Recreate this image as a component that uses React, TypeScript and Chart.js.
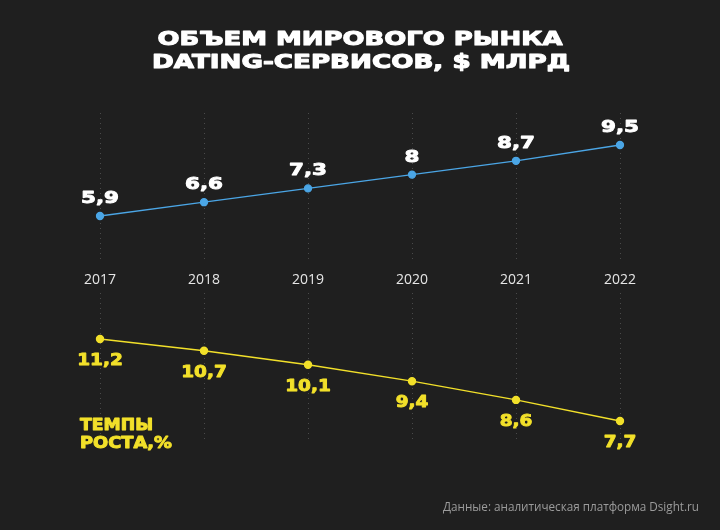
import React, { useEffect, useRef } from "react";
import { Chart, registerables } from "chart.js";

Chart.register(...registerables);

const years = ["2017", "2018", "2019", "2020", "2021", "2022"];
const marketVolume = [5.9, 6.6, 7.3, 8, 8.7, 9.5];
const growthRate = [11.2, 10.7, 10.1, 9.4, 8.6, 7.7];
const titleLines = ["ОБЪЕМ МИРОВОГО РЫНКА", "DATING-СЕРВИСОВ, $ МЛРД"];
const growthLabel = ["ТЕМПЫ", "РОСТА,%"];
const sourceText = "Данные: аналитическая платформа Dsight.ru";

const BG = "#1f1f1f";
const BLUE = "#4ba6e6";
const YELLOW = "#f2e02a";
const WIDE = "'DejaVu Sans', sans-serif";

function fmt(v: number) {
  return String(v).replace(".", ",");
}

function drawWide(
  ctx: CanvasRenderingContext2D,
  text: string,
  x: number,
  y: number,
  size: number,
  color: string,
  opts: { scale?: number; width?: number; align?: "left" | "center" | "right"; stroke?: number }
) {
  ctx.save();
  ctx.font = `bold ${size}px ${WIDE}`;
  const w = ctx.measureText(text).width;
  const s = opts.width ? opts.width / w : opts.scale ?? 1;
  const tw = w * s;
  let left = x;
  if (opts.align === "center") left = x - tw / 2;
  else if (opts.align === "right") left = x - tw;
  ctx.translate(left, y);
  ctx.scale(s, 1);
  ctx.textAlign = "left";
  ctx.textBaseline = "alphabetic";
  ctx.fillStyle = color;
  ctx.strokeStyle = color;
  ctx.lineWidth = opts.stroke ?? 0.7;
  ctx.lineJoin = "round";
  ctx.fillText(text, 0, 0);
  ctx.strokeText(text, 0, 0);
  ctx.restore();
}

const overlay = {
  id: "overlay",
  beforeDatasetsDraw(chart: any) {
    const ctx = chart.ctx as CanvasRenderingContext2D;
    ctx.save();
    ctx.fillStyle = BG;
    ctx.fillRect(0, 262, chart.width, 31);
    ctx.restore();
  },
  afterDraw(chart: any) {
    const ctx = chart.ctx as CanvasRenderingContext2D;
    const xs = chart.scales.x;
    drawWide(ctx, titleLines[0], 360, 45, 20, "#ffffff", { width: 405, align: "center", stroke: 1.1 });
    drawWide(ctx, titleLines[1], 361, 68, 20, "#ffffff", { width: 418, align: "center", stroke: 1.1 });

    ctx.save();
    ctx.font = "14px 'Open Sans', sans-serif";
    ctx.fillStyle = "#e6e6e6";
    ctx.textAlign = "center";
    ctx.textBaseline = "alphabetic";
    years.forEach((yr, i) => ctx.fillText(yr, xs.getPixelForValue(i), 284));
    ctx.restore();

    const m0 = chart.getDatasetMeta(0);
    m0.data.forEach((p: any, i: number) =>
      drawWide(ctx, fmt(marketVolume[i]), p.x, p.y - 13, 16.5, "#ffffff", { scale: 1.3, align: "center", stroke: 0.9 })
    );
    const m1 = chart.getDatasetMeta(1);
    m1.data.forEach((p: any, i: number) =>
      drawWide(ctx, fmt(growthRate[i]), p.x, p.y + 26, 16.5, YELLOW, { scale: 1.12, align: "center", stroke: 0.9 })
    );

    drawWide(ctx, growthLabel[0], 80, 430, 15, YELLOW, { width: 73, align: "left", stroke: 0.9 });
    drawWide(ctx, growthLabel[1], 80, 448, 15, YELLOW, { width: 92, align: "left", stroke: 0.9 });

    ctx.save();
    ctx.font = "11.7px 'Open Sans', sans-serif";
    ctx.fillStyle = "#9b9b9b";
    ctx.textAlign = "right";
    ctx.textBaseline = "alphabetic";
    ctx.fillText(sourceText, 699, 511);
    ctx.restore();
  },
};

export default function App() {
  const ref = useRef<HTMLCanvasElement | null>(null);

  useEffect(() => {
    document.body.style.margin = "0";
    document.body.style.background = BG;
    if (!ref.current) return;
    const chart = new Chart(ref.current, {
      type: "line",
      data: {
        labels: years,
        datasets: [
          {
            data: marketVolume,
            yAxisID: "y",
            borderColor: BLUE,
            backgroundColor: BLUE,
            pointBackgroundColor: BLUE,
            pointBorderColor: BLUE,
            pointRadius: 3.5,
            borderWidth: 1.3,
            clip: false as any,
          },
          {
            data: growthRate,
            yAxisID: "y2",
            borderColor: YELLOW,
            backgroundColor: YELLOW,
            pointBackgroundColor: YELLOW,
            pointBorderColor: YELLOW,
            pointRadius: 3.5,
            borderWidth: 1.4,
            clip: false as any,
          },
        ],
      },
      options: {
        animation: false,
        responsive: false,
        layout: { padding: { left: 100, right: 100, top: 113, bottom: 88 } },
        plugins: { legend: { display: false }, tooltip: { enabled: false } },
        scales: {
          x: {
            display: true,
            offset: false,
            ticks: { display: false },
            grid: { color: "#4a4a4a", lineWidth: 1, drawTicks: false },
            border: { display: false, dash: [1, 4] },
          },
          y: { display: false, min: -5.561, max: 11.123 },
          y2: { display: false, min: 6.804, max: 20.846 },
        },
      },
      plugins: [overlay],
    });
    return () => chart.destroy();
  }, []);

  return (
    <div style={{ width: 720, height: 530, background: BG }}>
      <canvas ref={ref} width={720} height={530} style={{ display: "block" }} />
    </div>
  );
}
